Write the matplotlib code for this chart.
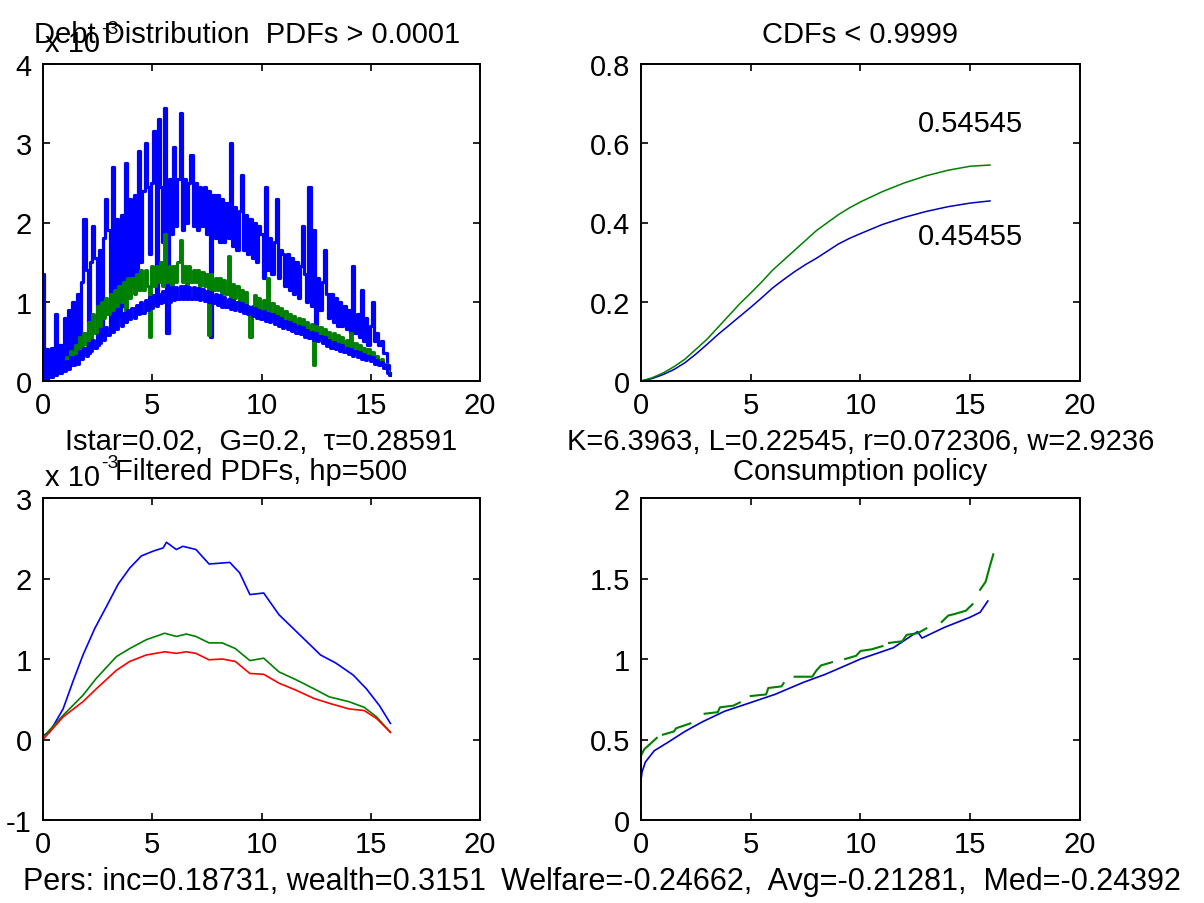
import numpy as np
import matplotlib
matplotlib.use("Agg")
import matplotlib.pyplot as plt

plt.rcParams['font.family'] = ['Liberation Sans', 'DejaVu Sans']

# ---------------- data ----------------
# Debt grid for the raw PDFs (x 10^-3)
debt_grid = np.round(np.arange(160) * 0.1, 1)

pdf_high_blue = [
    1.35, 0.05, 0.4, 0.05, 0.42, 0.1, 0.85, 0.1, 0.45, 0.12,
    0.8, 0.15, 0.9, 0.2, 1.0, 0.25, 1.1, 0.3, 1.25, 2.05,
    1.4, 0.35, 1.5, 1.95, 1.55, 0.45, 1.65, 0.55, 1.8, 2.3,
    1.9, 0.65, 2.7, 0.75, 2.05, 0.85, 2.1, 0.95, 2.75, 1.05,
    2.3, 1.2, 2.35, 1.35, 2.9, 1.5, 2.4, 3.0, 2.45, 1.6,
    2.5, 3.15, 1.0, 3.3, 2.45, 1.75, 3.45, 0.6, 2.55, 1.85,
    2.95, 1.95, 2.55, 3.38, 1.9, 2.55, 2.0, 2.5, 2.85, 1.95,
    2.5, 1.9, 2.45, 1.95, 2.45, 1.85, 2.4, 0.55, 2.35, 1.8,
    2.35, 1.75, 2.3, 1.75, 2.25, 1.8, 3.0, 1.7, 2.2, 1.65,
    2.15, 2.6, 1.65, 2.1, 1.6, 2.05, 1.55, 2.0, 1.5, 1.95,
    1.85, 1.3, 2.45, 1.4, 1.8, 1.35, 1.75, 2.3, 1.3, 1.65,
    1.6, 1.2, 1.6, 1.15, 1.55, 1.1, 1.5, 1.05, 1.45, 1.95,
    1.35, 1.0, 2.45, 0.95, 1.9, 0.6, 1.3, 0.9, 1.25, 1.65,
    1.1, 0.8, 1.1, 0.75, 1.05, 0.7, 1.0, 0.7, 0.95, 0.65,
    0.9, 0.6, 1.45, 0.6, 0.85, 0.55, 1.15, 0.5, 0.8, 0.45,
    0.7, 1.0, 0.5, 0.6, 0.45, 0.5, 0.35, 0.35, 0.2, 0.1,
]

pdf_green = [
    0.0, 0.05, 0.02, 0.08, 0.05, 0.12, 0.08, 0.15, 0.1, 0.2,
    0.15, 0.3, 0.2, 0.38, 0.25, 0.45, 0.3, 0.55, 0.35, 0.6,
    0.45, 0.75, 0.5, 0.85, 0.6, 0.95, 0.7, 1.0, 0.8, 1.05,
    0.85, 1.1, 0.9, 1.15, 0.95, 1.2, 1.0, 1.25, 0.75, 1.3,
    1.05, 1.3, 1.1, 1.35, 1.15, 1.4, 1.15, 1.4, 1.2, 0.55,
    1.45, 1.2, 1.45, 1.25, 1.5, 1.2, 1.85, 1.25, 1.45, 1.2,
    1.45, 1.25, 1.5, 1.78, 1.25, 1.45, 1.2, 1.45, 1.25, 1.4,
    1.25, 1.4, 1.2, 1.38, 1.2, 1.35, 0.58, 1.35, 1.15, 1.3,
    1.15, 1.3, 1.1, 1.28, 1.1, 1.58, 1.05, 1.22, 1.05, 1.2,
    1.0, 1.15, 0.98, 1.12, 0.95, 0.55, 0.95, 1.08, 0.92, 1.05,
    0.88, 1.02, 0.86, 1.3, 0.84, 0.98, 0.8, 0.95, 0.78, 0.92,
    0.75, 0.88, 0.72, 0.85, 0.7, 0.82, 0.68, 0.8, 0.66, 0.78,
    0.62, 0.75, 0.6, 0.72, 0.2, 0.7, 0.57, 0.68, 0.55, 0.65,
    0.52, 0.62, 0.5, 0.6, 0.48, 0.58, 0.46, 0.55, 0.44, 0.52,
    0.4, 0.6, 0.38, 0.48, 0.36, 0.46, 0.34, 0.42, 0.32, 0.4,
    0.28, 0.36, 0.25, 0.32, 0.22, 0.28, 0.18, 0.22, 0.12, 0.08,
]

pdf_low_blue = [
    0.0, 0.1, 0.02, 0.12, 0.05, 0.15, 0.08, 0.18, 0.1, 0.2,
    0.12, 0.25, 0.15, 0.3, 0.2, 0.32, 0.22, 0.38, 0.28, 0.42,
    0.32, 0.48, 0.38, 0.52, 0.42, 0.58, 0.48, 0.62, 0.52, 0.68,
    0.58, 0.72, 0.62, 0.78, 0.66, 0.82, 0.7, 0.86, 0.74, 0.9,
    0.78, 0.92, 0.8, 0.96, 0.84, 1.0, 0.86, 1.02, 0.9, 1.06,
    0.92, 1.08, 0.95, 1.1, 0.98, 1.14, 1.0, 1.16, 1.0, 1.18,
    1.02, 1.18, 1.03, 1.2, 1.04, 1.2, 1.04, 1.18, 1.04, 1.18,
    1.03, 1.17, 1.02, 1.16, 1.01, 1.14, 1.0, 1.12, 0.98, 1.1,
    0.96, 1.08, 0.94, 1.06, 0.93, 1.04, 0.91, 1.02, 0.9, 1.0,
    0.88, 0.98, 0.86, 0.96, 0.84, 0.94, 0.82, 0.92, 0.8, 0.9,
    0.78, 0.88, 0.76, 0.86, 0.74, 0.84, 0.72, 0.82, 0.7, 0.8,
    0.67, 0.76, 0.65, 0.74, 0.63, 0.72, 0.61, 0.7, 0.59, 0.68,
    0.56, 0.64, 0.54, 0.62, 0.52, 0.6, 0.5, 0.57, 0.48, 0.55,
    0.44, 0.52, 0.42, 0.49, 0.4, 0.47, 0.38, 0.45, 0.36, 0.42,
    0.34, 0.4, 0.32, 0.38, 0.3, 0.36, 0.28, 0.34, 0.26, 0.32,
    0.25, 0.3, 0.22, 0.27, 0.2, 0.24, 0.16, 0.2, 0.1, 0.08,
]

# CDFs
cdf_x = [0, 0.5, 1, 1.5, 2, 2.5, 3, 3.5, 4, 4.5, 5, 5.5, 6, 6.5, 7, 7.5, 8,
         8.5, 9, 9.5, 10, 11, 12, 13, 14, 15, 15.9]
cdf_green = [0, 0.008, 0.02, 0.036, 0.055, 0.08, 0.105, 0.135, 0.165, 0.195,
             0.222, 0.25, 0.28, 0.305, 0.33, 0.355, 0.38, 0.40, 0.42, 0.437,
             0.452, 0.478, 0.50, 0.518, 0.532, 0.542, 0.545]
cdf_blue = [0, 0.006, 0.016, 0.029, 0.046, 0.068, 0.092, 0.117, 0.14, 0.163,
            0.186, 0.21, 0.235, 0.256, 0.276, 0.294, 0.31, 0.328, 0.346, 0.36,
            0.372, 0.395, 0.413, 0.428, 0.44, 0.449, 0.4545]
cdf_labels = ["0.54545", "0.45455"]

# Filtered PDFs (x 10^-3)
filt_blue_x = [0, 0.3, 0.92, 1.37, 1.83, 2.37, 2.9, 3.44, 3.97, 4.5, 5.04, 5.5,
               5.65, 6.1, 6.4, 7.0, 7.6, 8.55, 9.0, 9.47, 10.1, 10.8, 11.6,
               12.4, 12.7, 13.4, 14.2, 14.8, 15.4, 15.9]
filt_blue = [0.05, 0.09, 0.38, 0.72, 1.05, 1.38, 1.65, 1.93, 2.13, 2.28, 2.34,
             2.38, 2.45, 2.36, 2.40, 2.36, 2.18, 2.2, 2.07, 1.8, 1.82, 1.55,
             1.34, 1.13, 1.05, 0.95, 0.8, 0.63, 0.42, 0.2]
filt_x = [0, 0.92, 1.83, 2.44, 3.36, 3.97, 4.73, 5.57, 6.1, 6.56, 7.0, 7.6,
          8.2, 8.8, 9.47, 10.1, 10.8, 11.6, 12.4, 13.1, 14.0, 14.7, 15.27, 15.9]
filt_green = [0.03, 0.3, 0.55, 0.76, 1.03, 1.13, 1.24, 1.32, 1.28, 1.31, 1.28,
              1.2, 1.2, 1.13, 0.98, 1.01, 0.84, 0.74, 0.63, 0.53, 0.47, 0.40,
              0.28, 0.09]
filt_red = [0.0, 0.28, 0.47, 0.63, 0.86, 0.97, 1.05, 1.09, 1.07, 1.09, 1.07,
            0.99, 1.0, 0.97, 0.82, 0.81, 0.70, 0.61, 0.51, 0.45, 0.38, 0.36,
            0.26, 0.09]

# Consumption policy
cons_blue_x = [0, 0.05, 0.2, 0.6, 1.2, 2.0, 2.8, 3.8, 4.9, 6.1, 7.4, 8.4, 9.5,
               10.0, 11.5, 12.6, 12.8, 13.8, 15.0, 15.45, 15.8]
cons_blue = [0.25, 0.3, 0.36, 0.43, 0.48, 0.55, 0.61, 0.675, 0.725, 0.78,
             0.855, 0.905, 0.97, 1.0, 1.07, 1.17, 1.13, 1.195, 1.26, 1.29, 1.36]
cons_green_x = [0, 0.15, 0.4, 0.72, np.nan,
                1.0, 1.5, 1.6, 2.25, np.nan,
                2.9, 3.5, 3.6, 4.2, 4.5, np.nan,
                5.0, 5.7, 5.8, 6.4, 6.5, np.nan,
                7.0, 7.8, 8.0, 8.2, 8.7, np.nan,
                9.3, 9.8, 10.0, 10.5, 11.0, np.nan,
                11.3, 11.9, 12.1, 12.6, 13.0, np.nan,
                13.7, 14.0, 14.3, 14.8, 15.1, np.nan,
                15.45, 15.7, 15.9, 16.05]
cons_green = [0.40, 0.44, 0.47, 0.51, np.nan,
              0.53, 0.55, 0.57, 0.60, np.nan,
              0.66, 0.67, 0.70, 0.71, 0.73, np.nan,
              0.77, 0.78, 0.82, 0.83, 0.85, np.nan,
              0.89, 0.89, 0.93, 0.96, 0.98, np.nan,
              1.0, 1.02, 1.05, 1.06, 1.08, np.nan,
              1.10, 1.11, 1.15, 1.16, 1.19, np.nan,
              1.23, 1.27, 1.28, 1.30, 1.34, np.nan,
              1.43, 1.48, 1.58, 1.65]

xticks = [0, 5, 10, 15, 20]
titles = ["Debt Distribution  PDFs > 0.0001", "CDFs < 0.9999",
          "Filtered PDFs, hp=500", "Consumption policy"]
xlabels = ["Istar=0.02,  G=0.2,  \u03c4=0.28591",
           "K=6.3963, L=0.22545, r=0.072306, w=2.9236",
           "Pers: inc=0.18731, wealth=0.3151",
           "Welfare=-0.24662,  Avg=-0.21281,  Med=-0.24392"]

# ---------------- figure ----------------
W, H = 1204, 904
fig = plt.figure(figsize=(W / 100, H / 100), dpi=100)
FS = 21

def px_axes(l, t, r, b):
    return fig.add_axes([l / W, 1 - b / H, (r - l) / W, (b - t) / H])

ax1 = px_axes(43, 65, 480, 382)
ax2 = px_axes(641, 65, 1080, 382)
ax3 = px_axes(43, 499, 480, 821)
ax4 = px_axes(641, 499, 1080, 821)

BLUE = (0, 0, 1)
GREEN = (0, 0.5, 0)
RED = (1, 0, 0)

ax1.plot(debt_grid, pdf_high_blue, color=BLUE, lw=2.3, drawstyle='steps-mid')
ax1.plot(debt_grid, pdf_green, color=GREEN, lw=2.1, drawstyle='steps-mid')
ax1.plot(debt_grid, pdf_low_blue, color=BLUE, lw=2.1, drawstyle='steps-mid')
ax1.set_ylim(0, 4)
ax1.set_yticks([0, 1, 2, 3, 4])
ax1.set_yticklabels(["0", "1", "2", "3", "4"])

ax2.plot(cdf_x, cdf_blue, color=(0, 0, 0.75), lw=1.1)
ax2.plot(cdf_x, cdf_green, color=GREEN, lw=1.1)
ax2.text(12.6, 0.652, cdf_labels[0], fontsize=FS, va='center', ha='left')
ax2.text(12.6, 0.366, cdf_labels[1], fontsize=FS, va='center', ha='left')
ax2.set_ylim(0, 0.8)
ax2.set_yticks([0, 0.2, 0.4, 0.6, 0.8])
ax2.set_yticklabels(["0", "0.2", "0.4", "0.6", "0.8"])

ax3.plot(filt_blue_x, filt_blue, color=BLUE, lw=1.2)
ax3.plot(filt_x, filt_green, color=GREEN, lw=1.2)
ax3.plot(filt_x, filt_red, color=RED, lw=1.2)
ax3.set_ylim(-1, 3)
ax3.set_yticks([-1, 0, 1, 2, 3])
ax3.set_yticklabels(["-1", "0", "1", "2", "3"])

ax4.plot(cons_blue_x, cons_blue, color=(0, 0, 0.8), lw=1.2)
ax4.plot(cons_green_x, cons_green, color=GREEN, lw=1.5)
ax4.set_ylim(0, 2)
ax4.set_yticks([0, 0.5, 1, 1.5, 2])
ax4.set_yticklabels(["0", "0.5", "1", "1.5", "2"])

title_x = [0.467, 0.5, 0.5, 0.5]
xlabel_x = [0.5, 0.5, 0.483, 0.456]
for i, ax in enumerate([ax1, ax2, ax3, ax4]):
    ax.set_xlim(0, 20)
    ax.set_xticks(xticks)
    ax.set_xticklabels([str(v) for v in xticks])
    ax.tick_params(direction='in', length=5, width=1.2, top=True, right=True,
                   labelsize=FS, pad=7, colors='black')
    ax.tick_params(axis='y', pad=8)
    for s in ax.spines.values():
        s.set_linewidth(1.4)
    ax.set_title(titles[i], fontsize=FS, pad=16 if i < 2 else 14, x=title_x[i])
    ax.set_xlabel(xlabels[i], fontsize=FS + 1 if i >= 2 else FS, labelpad=6)
    ax.xaxis.label.set_x(xlabel_x[i])

# exponent labels (x 10^-3)
for ytop in (52, 486):
    fig.text(45 / W, 1 - ytop / H, "x 10", fontsize=FS, ha='left', va='baseline')
    fig.text(101 / W, 1 - (ytop - 18) / H, "-3", fontsize=14, ha='left', va='baseline')

fig.savefig("out.png", dpi=100, facecolor='white')
